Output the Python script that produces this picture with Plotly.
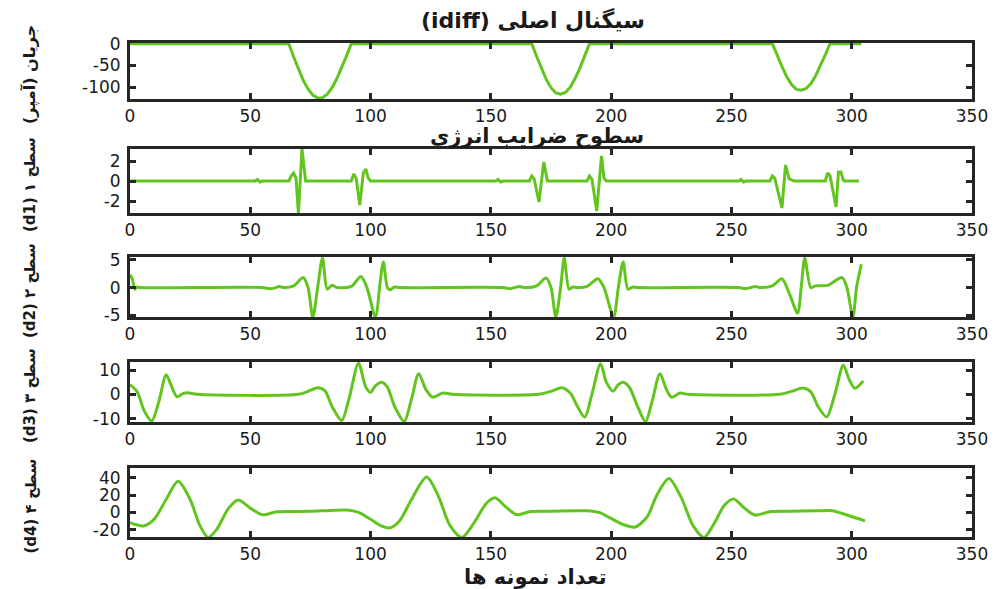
import plotly.graph_objects as go

# ---------------- data ----------------
x_ticks = [0, 50, 100, 150, 200, 250, 300, 350]

idiff_x = [0, 66, 68, 70, 72, 74, 76, 78, 80, 82, 84, 86, 88, 90, 92,
           167, 169, 171, 173, 175, 177, 179, 181, 183, 185, 187, 189, 191,
           267, 269, 271, 273, 275, 277, 279, 281, 283, 285, 287, 289, 291, 304]
idiff_y = [0, 0, -30, -58, -84, -104, -118, -125, -124, -116, -101, -80, -55, -28, 0,
           0, -29, -56, -82, -101, -113, -116, -112, -100, -80, -56, -29, 0,
           0, -27, -52, -76, -94, -105, -107, -103, -92, -74, -51, -26, 0, 0]

d1_x = [0, 52, 53, 54, 55, 66, 67, 68, 69, 70, 71.5, 73,
        92, 93, 94, 95.5, 97, 98, 99, 100,
        152, 153, 154, 155, 166, 167, 168, 170, 172, 173.5,
        190, 191, 192, 194, 196, 197, 198,
        253, 254, 255, 256, 266, 267, 268, 271, 272.5, 274, 275, 276,
        289, 290, 291, 293.5, 294.5, 295.5, 296.5, 297, 303]
d1_y = [0, 0, 0.15, -0.1, 0, 0, 0.5, 0.8, 0.3, -3.2, 3.2, 0,
        0, 0.7, 0.3, -2.4, 0.8, 1.2, 0.3, 0,
        0, 0.15, -0.1, 0, 0, 0.5, 0.2, -2.1, 1.9, 0,
        0, 0.5, 0.2, -3.0, 2.5, 0.3, 0,
        0, 0.15, -0.1, 0, 0, 0.5, 0.3, -2.7, 1.6, 0.2, 0.1, 0,
        0, 0.8, 0.5, -2.6, 0.9, 0.9, 0.1, 0, 0]

d2_x = [0, 1, 2, 3, 4, 55, 58, 60, 62, 64, 68, 72, 74, 76, 78, 80, 82, 84, 86,
        92, 96, 98.5, 102, 104, 105.3, 107, 108, 110, 112,
        155, 158, 160, 162, 164, 169, 173, 175, 177, 179, 180.5, 182.5, 184, 186,
        190, 194.5, 197, 201, 203, 205, 207, 209, 211,
        253, 256, 258, 260, 262, 267, 271, 274, 277.5, 279, 280.5, 283, 285,
        290, 296, 298, 300.5, 302, 304]
d2_y = [2.3, 1.5, -0.3, 0.1, 0, 0, -0.2, -0.1, 0.2, 0, 0.3, 1.8, 0, -5.3, 0, 5.3, -0.3, 0.4, 0,
        0.2, 2.0, 0, -5.3, 1, 4.6, 0, -0.4, 0.1, 0,
        0, -0.2, 0, 0.2, 0, 0.3, 1.7, 0, -5.3, 0, 5.3, -0.3, 0.1, 0,
        0.2, 1.6, 0, -5.3, 0, 4.6, -0.3, 0.1, 0,
        0, -0.2, 0, 0.2, 0, 0.3, 1.6, -1, -4.6, 0, 5.3, 0, 0.3,
        0.4, 1.8, 0, -5.3, 0, 4.2]

d3_x = [0, 3, 6, 9, 12, 15, 17, 19.5, 22, 24, 28,
        70, 74, 78, 81, 84, 88, 91, 95, 98, 100, 102, 104.6, 107, 110, 114, 117, 120, 123, 125.8, 130, 134,
        170, 175, 179.5, 183, 186, 189, 192, 195.6, 198, 200.8, 203, 205, 207.5, 211, 214.3, 217, 220.3, 223, 225.1, 228.6, 232,
        270, 275, 279.8, 283, 286, 289.6, 293, 296.5, 299, 301.3, 304.8]
d3_y = [4, 1, -7, -11, -3, 8, 4, -1, 0.3, 0.6, 0,
        0, 1.2, 2.7, 1.5, -5, -10.8, -2, 12.8, 3, 0.8, 3.5, 5, 3, -5, -11.2, -2, 8.5, 2, -1.2, 0.5, 0,
        0, 1.2, 2.7, 0.5, -5, -9.4, 0, 12.6, 5, 1.3, 4, 5, 3, -5, -11.3, -3, 8.5, 2, -1.2, 0.5, 0,
        0, 1.2, 2.6, 1, -5, -9.3, 0, 12, 6, 2.5, 5.5]

d4_x = [0, 5.5, 10, 15, 20, 25, 29, 32.5, 36, 41, 45, 50, 55, 61, 70, 80, 90, 95, 100, 104, 108,
        112, 117, 123.3, 128, 133, 138, 143, 148, 151.7, 156, 160.7, 166, 175, 185, 190, 195,
        200, 205, 210, 215, 219, 224, 229, 234, 238.6, 243, 247, 251, 255, 259.8, 266, 275,
        285, 292, 298, 305.5]
d4_y = [-12, -15.7, -8, 15, 36, 15, -15, -29, -20, 5, 14.5, 5, -2.7, 0.8, 1.2, 1.8, 2.7, 0, -8, -15, -18,
        -10, 15, 41, 20, -15, -29, -12, 10, 16.9, 7, -2.7, 0.8, 1.3, 1.8, 2, 0,
        -7, -14, -16.9, -5, 20, 39.2, 18, -15, -29, -12, 8, 15.7, 6, -3.1, 0.8, 1.3,
        1.8, 2, -3, -9.8]

y_ranges = [[-127, 1.5], [-3.2, 3.2], [-5.3, 5.5], [-11.4, 13.3], [-28.5, 51.5]]
y_tickvals = [[-100, -50, 0], [-2, 0, 2], [-5, 0, 5], [-10, 0, 10], [-20, 0, 20, 40]]

title_top = "(idiff) سیگنال اصلی"
title_mid = "سطوح ضرایب انرژی"
x_title = "تعداد نمونه ها"
y_titles = ["جریان (آمپر)\u200f", "(d1) ۱ سطح", "(d2) ۲ سطح", "(d3) ۳ سطح", "(d4) ۴ سطح"]

# ---------------- layout ----------------
W, H = 995, 589
FONT = "DejaVu Sans"
GREEN = "#62C41E"
FRAME = "#262626"
TXT = "#1a1a1a"

# pixel positions of each axes box (top, bottom)
boxes = [(43, 99), (149, 213), (257, 317), (362, 422), (468, 537)]
x_left, x_right = 130, 972

series = [(idiff_x, idiff_y, "linear"), (d1_x, d1_y, "linear"), (d2_x, d2_y, "spline"),
          (d3_x, d3_y, "spline"), (d4_x, d4_y, "spline")]

fig = go.Figure()
layout = dict(
    width=W, height=H,
    margin=dict(l=0, r=0, t=0, b=0),
    paper_bgcolor="white", plot_bgcolor="white",
    showlegend=False,
    template="none",
    font=dict(family=FONT, size=17, color=TXT),
)

def fmt(v):
    return str(v).replace("\u2212", "-")

for i, ((xs, ys, shape), (top, bot)) in enumerate(zip(series, boxes)):
    n = i + 1
    xa = "x" if n == 1 else f"x{n}"
    ya = "y" if n == 1 else f"y{n}"
    line = dict(color=GREEN, width=3, shape=shape)
    if shape == "spline":
        line["smoothing"] = 0.8
    fig.add_trace(go.Scatter(x=xs, y=ys, mode="lines", line=line, xaxis=xa, yaxis=ya,
                             hoverinfo="skip"))
    common = dict(showline=True, linecolor=FRAME, linewidth=3, mirror="allticks",
                  ticks="inside", ticklen=6, tickwidth=3, tickcolor=FRAME,
                  showgrid=False, zeroline=False, automargin=False,
                  tickfont=dict(family=FONT, size=17, color=TXT))
    layout[f"xaxis{n if n > 1 else ''}"] = dict(
        domain=[x_left / W, x_right / W], anchor=ya, range=[0, 350],
        tickvals=x_ticks, ticktext=[fmt(v) for v in x_ticks], ticklabelstandoff=0, **common)
    layout[f"yaxis{n if n > 1 else ''}"] = dict(
        domain=[1 - bot / H, 1 - top / H], anchor=xa, range=y_ranges[i],
        tickvals=y_tickvals[i], ticktext=[fmt(v) for v in y_tickvals[i]], ticklabelstandoff=3, **common)

fig.update_layout(**layout)

ann = []
ann.append(dict(text=title_top, x=533 / W, y=1 - 20 / H, xref="paper", yref="paper",
                showarrow=False, font=dict(family=FONT, size=22, color=TXT, weight="bold"),
                xanchor="center", yanchor="middle"))
ann.append(dict(text=title_mid, x=537 / W, y=1 - 136 / H, xref="paper", yref="paper",
                showarrow=False, font=dict(family=FONT, size=21, color=TXT, weight="bold"),
                xanchor="center", yanchor="middle"))
ann.append(dict(text=x_title, x=535 / W, y=1 - 577 / H, xref="paper", yref="paper",
                showarrow=False, font=dict(family=FONT, size=21, color=TXT, weight="bold"),
                xanchor="center", yanchor="middle"))
for k, (t, (top, bot)) in enumerate(zip(y_titles, boxes)):
    yc = (top + bot) / 2 + 4
    ann.append(dict(text=t, x=30 / W, y=1 - yc / H, xref="paper", yref="paper",
                    showarrow=False, textangle=-90,
                    font=dict(family=FONT, size=16 if k == 0 else 15, color=TXT, weight="bold"),
                    xanchor="center", yanchor="middle"))
fig.update_layout(annotations=ann)

fig.write_html("out.html")
